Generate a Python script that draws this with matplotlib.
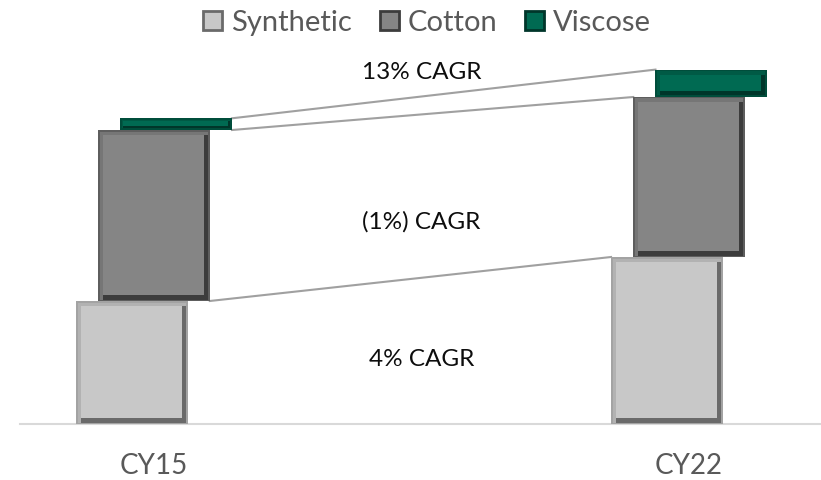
import matplotlib
matplotlib.use("Agg")
import matplotlib.pyplot as plt
from matplotlib.patches import Patch

plt.rcParams["font.family"] = ["Lato", "DejaVu Sans"]

# data (volume index)
years = ["CY15", "CY22"]
series = ["Synthetic", "Cotton", "Viscose"]
synthetic = [12.3, 16.7]
cotton = [17.1, 16.0]
viscose = [1.17, 2.74]
cagr_labels = ["4% CAGR", "(1%) CAGR", "13% CAGR"]
cagr_label_y = [6.5, 20.2, 35.1]

# styling per series: face, outer edge, light bevel, dark bevel
STYLES = [
    dict(face="#c8c8c8", edge="#a3a3a3", light="#b2b2b2", dark="#6a6a6a"),
    dict(face="#858585", edge="#5e5e5e", light="#767676", dark="#3c3c3c"),
    dict(face="#006a52", edge="#004d3b", light="#005a45", dark="#00362a"),
]
OFFSETS = [-0.0415, 0.0, 0.0415]
WIDTH = 0.2084

W, H, DPI = 821, 480, 100
fig = plt.figure(figsize=(W / DPI, H / DPI), dpi=DPI)
ax_left, ax_bottom_px, ax_top_px = 20, 424, 40
ax = fig.add_axes([ax_left / W, (H - ax_bottom_px) / H, 1 - ax_left / W,
                   (ax_bottom_px - ax_top_px) / H])
ax.set_xlim(-0.2505, 1.2467)
ax.set_ylim(0, 38.4)

# pixel -> data conversions for the bevel insets
px_x = (1.2467 + 0.2505) / (W - ax_left)
px_y = 38.4 / (ax_bottom_px - ax_top_px)

values = [synthetic, cotton, viscose]
xs = list(range(len(years)))


def inset_bar(x, bottom, height, l, r, b, t, color, z):
    # draw a rectangle inset from the bar edges by l/r/b/t pixels
    w = WIDTH - (l + r) * px_x
    h = height - (b + t) * px_y
    if w <= 0 or h <= 0:
        return
    cx = x - WIDTH / 2 + l * px_x + w / 2
    ax.bar(cx, h, w, bottom=bottom + b * px_y, color=color, linewidth=0, zorder=z)


def bevel_bar(x, bottom, height, st):
    hp = height / px_y
    k = 1.0 if hp > 20 else hp / 20
    inset_bar(x, bottom, height, 0, 0, 0, 0, st["edge"], 3)
    inset_bar(x, bottom, height, 1.5, 1.5, 1.5, 1.5, st["light"], 4)
    inset_bar(x, bottom, height, 5 * k, 1.5, 1.5, 5 * k, st["dark"], 5)
    inset_bar(x, bottom, height, 5 * k, 6 * k, 6 * k, 5 * k, st["face"], 6)


for j, x in enumerate(xs):
    bottom = 0
    for i, vals in enumerate(values):
        bevel_bar(x + OFFSETS[i], bottom, vals[j], STYLES[i])
        bottom += vals[j]

# connector lines between the two years
tops0 = [synthetic[0], synthetic[0] + cotton[0], synthetic[0] + cotton[0] + viscose[0]]
tops1 = [synthetic[1], synthetic[1] + cotton[1], synthetic[1] + cotton[1] + viscose[1]]
for i in range(3):
    x_start = xs[0] + OFFSETS[min(i + 1, 2)] + WIDTH / 2
    x_end = xs[1] + OFFSETS[i] - WIDTH / 2
    ax.plot([x_start, x_end], [tops0[i], tops1[i]], color="#a0a0a0", lw=1.5, zorder=2)

for lab, y in zip(cagr_labels, cagr_label_y):
    ax.text(0.5, y, lab, ha="center", va="center", fontsize=17.5, color="#0d0d0d")

for s in ["top", "right", "left"]:
    ax.spines[s].set_visible(False)
ax.spines["bottom"].set_color("#d9d9d9")
ax.spines["bottom"].set_linewidth(1.5)
ax.set_yticks([])
ax.set_xticks(xs)
ax.set_xticklabels(years, fontsize=20, color="#595959")
ax.tick_params(axis="x", length=0, pad=21)

handles = [Patch(facecolor=st["face"], edgecolor=st["dark"], linewidth=2) for st in STYLES]
fig.legend(handles, series, loc="center", bbox_to_anchor=(0.52, 1 - 23 / H), ncol=3,
           frameon=False, fontsize=21, labelcolor="#595959", handlelength=0.65,
           handleheight=0.65, handletextpad=0.3, columnspacing=0.95)

fig.savefig("out.png", dpi=DPI)
